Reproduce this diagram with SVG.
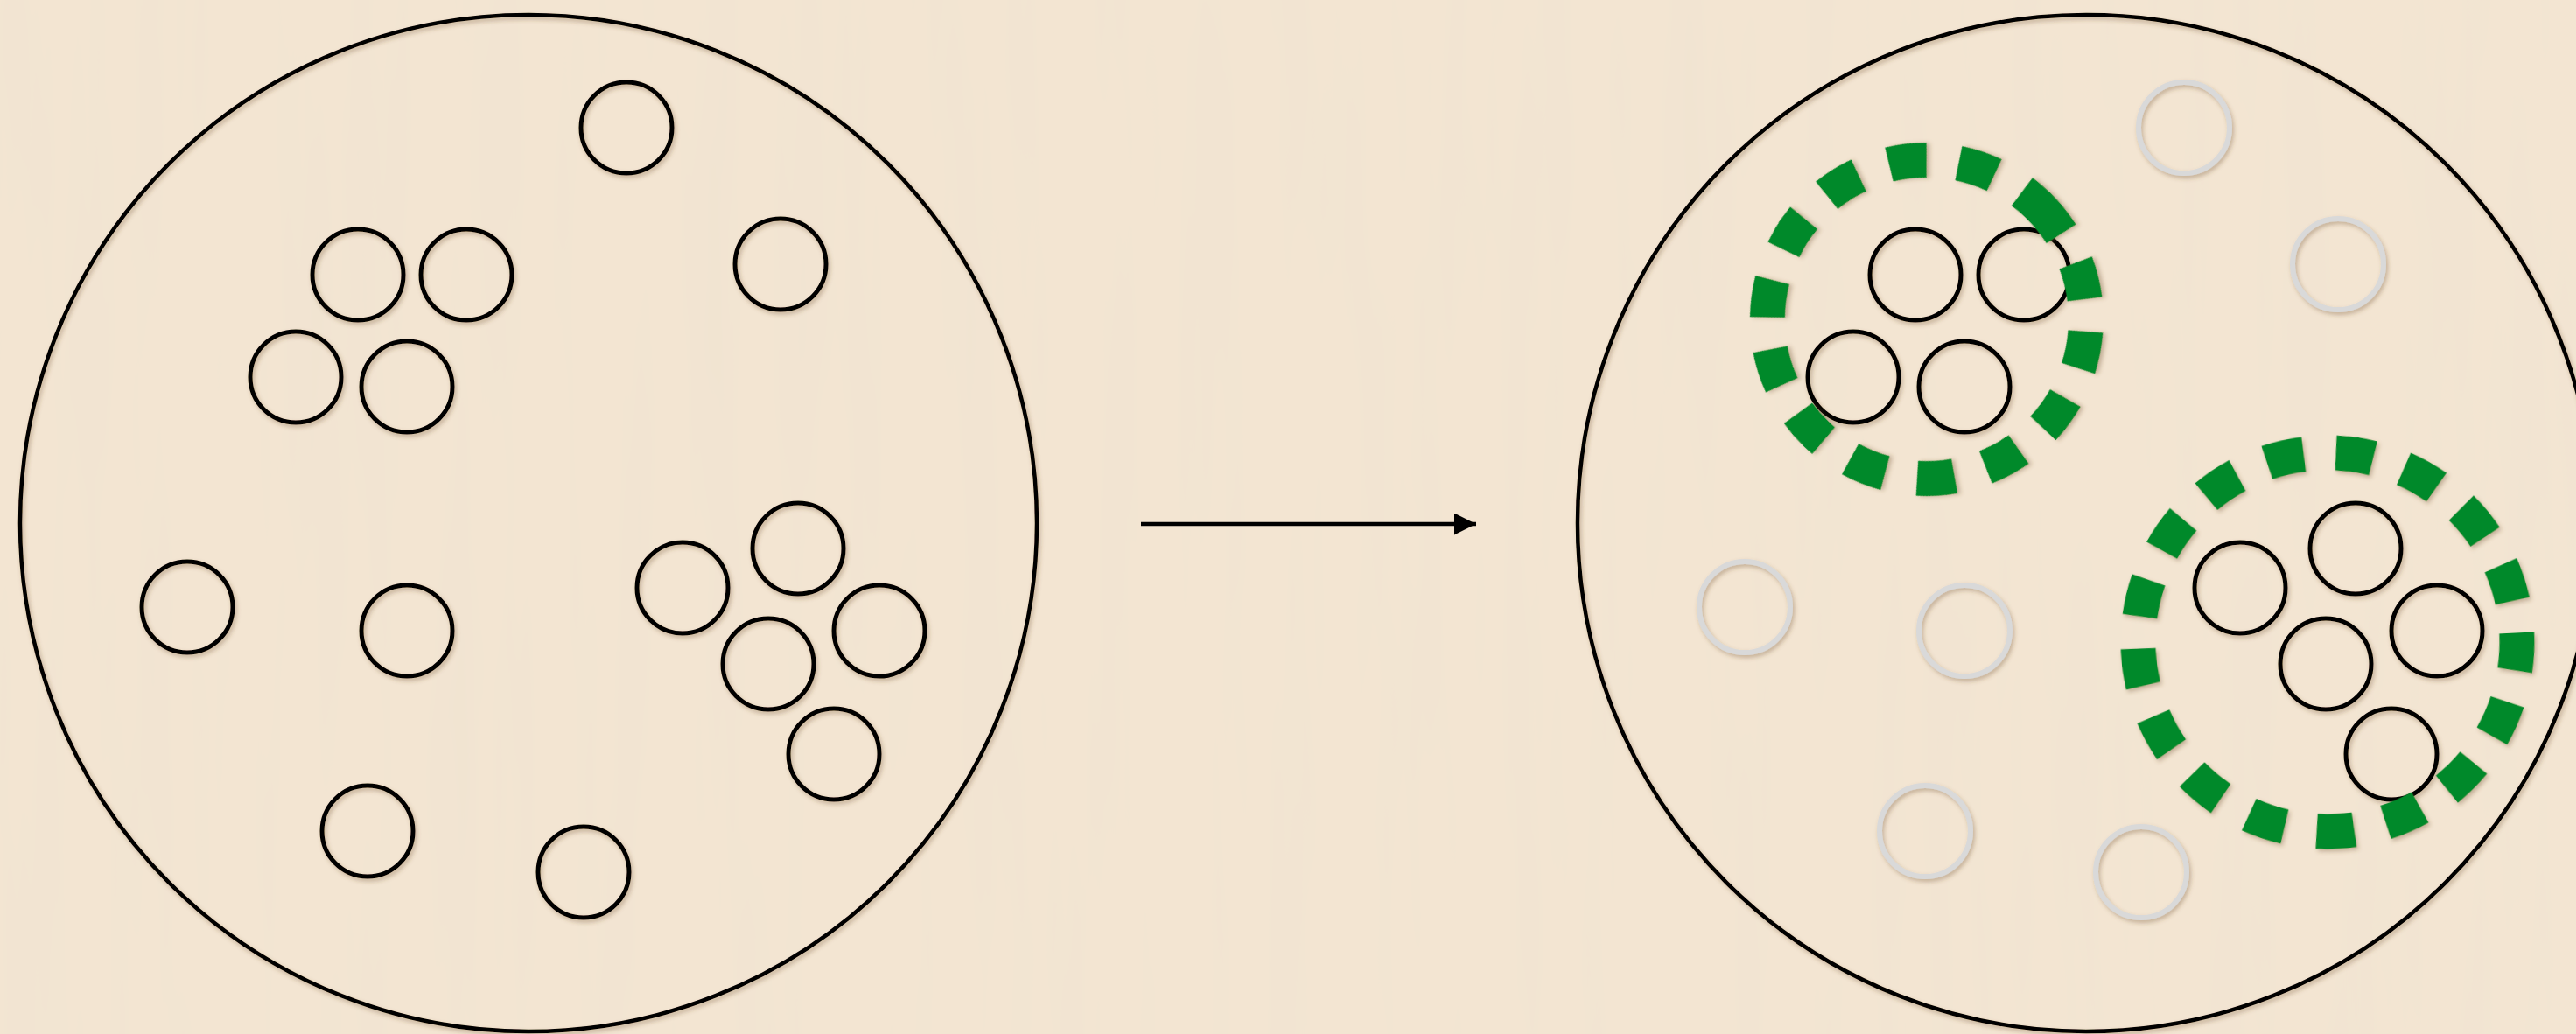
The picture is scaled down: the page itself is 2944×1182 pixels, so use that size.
<svg xmlns="http://www.w3.org/2000/svg" width="2944" height="1182" viewBox="0 0 2944 1182">
<defs>
  <filter id="wood" x="0" y="0" width="2944" height="1182" filterUnits="userSpaceOnUse">
    <feTurbulence type="fractalNoise" baseFrequency="0.02 0.0015" numOctaves="3" seed="7" result="n"/>
    <feColorMatrix in="n" type="matrix" values="0 0 0 0 0.84  0 0 0 0 0.75  0 0 0 0 0.63  0.6 0 0 0 -0.25"/>
  </filter>
  <filter id="shadow" x="-20%" y="-20%" width="140%" height="140%">
    <feDropShadow dx="2" dy="3" stdDeviation="2.5" flood-color="#6b4a2a" flood-opacity="0.35"/>
  </filter>
  <marker id="arrowhead" markerWidth="26" markerHeight="26" refX="25" refY="12.5" orient="auto" markerUnits="userSpaceOnUse">
    <path d="M0,0 L25,12.5 L0,25 Z" fill="#000"/>
  </marker>
  <style>
    .outer { fill: none; stroke: #000; stroke-width: 4.5; filter: url(#shadow); }
    .cell { fill: none; stroke: #000; stroke-width: 5; filter: url(#shadow); }
    .ghost { fill: none; stroke: #d9d9d9; stroke-width: 6; filter: url(#shadow); }
    .ring { fill: none; stroke: #03892c; stroke-width: 40; stroke-dasharray: 43 37; filter: url(#shadow); }
  </style>
</defs>

<rect x="0" y="0" width="2944" height="1182" fill="#f3e5d2"/>
<rect x="0" y="0" width="2944" height="1182" filter="url(#wood)"/>

<!-- Left panel -->
<g id="left-panel">
  <g id="left-boundary"><circle class="outer" cx="604" cy="598" r="581"/></g>
  <g id="L1"><circle class="cell" cx="716" cy="146" r="52"/></g>
  <g id="L2"><circle class="cell" cx="409" cy="314" r="52"/></g>
  <g id="L3"><circle class="cell" cx="533" cy="314" r="52"/></g>
  <g id="L4"><circle class="cell" cx="338" cy="431" r="52"/></g>
  <g id="L5"><circle class="cell" cx="465" cy="442" r="52"/></g>
  <g id="L6"><circle class="cell" cx="892" cy="302" r="52"/></g>
  <g id="L7"><circle class="cell" cx="214" cy="694" r="52"/></g>
  <g id="L8"><circle class="cell" cx="465" cy="721" r="52"/></g>
  <g id="L9"><circle class="cell" cx="780" cy="672" r="52"/></g>
  <g id="L10"><circle class="cell" cx="912" cy="627" r="52"/></g>
  <g id="L11"><circle class="cell" cx="1005" cy="721" r="52"/></g>
  <g id="L12"><circle class="cell" cx="878" cy="759" r="52"/></g>
  <g id="L13"><circle class="cell" cx="953" cy="862" r="52"/></g>
  <g id="L14"><circle class="cell" cx="420" cy="950" r="52"/></g>
  <g id="L15"><circle class="cell" cx="667" cy="997" r="52"/></g>
</g>

<!-- Connectors -->
<g id="connectors">
  <line x1="1304" y1="599" x2="1687" y2="599" stroke="#000" stroke-width="4.7" marker-end="url(#arrowhead)"/>
</g>

<!-- Right panel -->
<g id="right-panel">
  <g id="right-boundary"><circle class="outer" cx="2384" cy="598" r="581"/></g>
  <g id="R1"><circle class="ghost" cx="2496" cy="146" r="52"/></g>
  <g id="R2"><circle class="cell" cx="2189" cy="314" r="52"/></g>
  <g id="R3"><circle class="cell" cx="2313" cy="314" r="52"/></g>
  <g id="R4"><circle class="cell" cx="2118" cy="431" r="52"/></g>
  <g id="R5"><circle class="cell" cx="2245" cy="442" r="52"/></g>
  <g id="R6"><circle class="ghost" cx="2672" cy="302" r="52"/></g>
  <g id="R7"><circle class="ghost" cx="1994" cy="694" r="52"/></g>
  <g id="R8"><circle class="ghost" cx="2245" cy="721" r="52"/></g>
  <g id="R9"><circle class="cell" cx="2560" cy="672" r="52"/></g>
  <g id="R10"><circle class="cell" cx="2692" cy="627" r="52"/></g>
  <g id="R11"><circle class="cell" cx="2785" cy="721" r="52"/></g>
  <g id="R12"><circle class="cell" cx="2658" cy="759" r="52"/></g>
  <g id="R13"><circle class="cell" cx="2733" cy="862" r="52"/></g>
  <g id="R14"><circle class="ghost" cx="2200" cy="950" r="52"/></g>
  <g id="R15"><circle class="ghost" cx="2447" cy="997" r="52"/></g>
  <g id="cluster-1"><circle class="ring" cx="2202" cy="365" r="182" transform="rotate(-46 2202 365)"/></g>
  <g id="cluster-2"><circle class="ring" cx="2660" cy="734" r="216.5" transform="rotate(-2.8 2660 734)"/></g>
</g>
</svg>
